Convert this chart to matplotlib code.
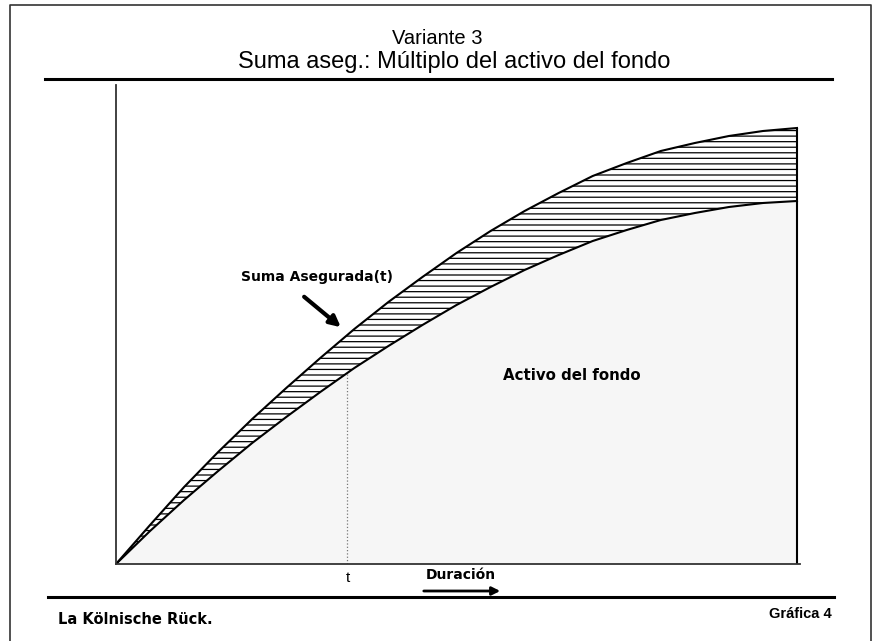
import matplotlib
matplotlib.use('Agg')
import matplotlib.pyplot as plt
import numpy as np

plt.rcParams['font.family'] = ['Liberation Sans', 'DejaVu Sans']
plt.rcParams['hatch.linewidth'] = 0.9

# duration (arbitrary units) and the two curves (arbitrary units)
duracion = [0, 0.5, 1, 1.5, 2, 2.5, 3, 3.5, 4, 4.5, 5, 5.5, 6, 6.5, 7, 7.5, 8, 8.5, 9, 9.5, 10]
activo = [0, 33, 64, 93, 121, 147, 172, 196, 218, 239, 259, 277,
          294, 309, 323, 334, 344, 351, 357, 361, 363]
suma_aseg = [0, 39, 77, 112, 145, 176, 206, 235, 262, 287, 311, 333,
             353, 371, 388, 401, 413, 421, 428, 433, 436]
t_mark = 3.39

W, H = 875, 641
fig = plt.figure(figsize=(W / 100, H / 100), dpi=100)

# the chart itself
ax = fig.add_axes([116 / W, (H - 564) / H, (800 - 116) / W, (564 - 85) / H])
ax.patch.set_alpha(0)
ax.set_xlim(0, 10 * 684 / 681)
ax.set_ylim(0, 479)

ax.fill_between(duracion, 0, activo, facecolor='#f6f6f6', linewidth=0)
ax.fill_between(duracion, activo, suma_aseg, facecolor='white', edgecolor='black',
                hatch='---', linewidth=0)
ax.plot(duracion, activo, color='black', lw=1.5)
ax.plot(duracion, suma_aseg, color='black', lw=1.5)
ax.vlines(duracion[-1], 0, suma_aseg[-1], color='black', lw=1.5)
ax.vlines(t_mark, 0, np.interp(t_mark, duracion, activo), color='#777777', lw=0.9, linestyles=':')

for side in ['top', 'right']:
    ax.spines[side].set_visible(False)
for side in ['left', 'bottom']:
    ax.spines[side].set_color('#333333')
    ax.spines[side].set_linewidth(1.3)
ax.set_xticks([])
ax.set_yticks([])

# frame layer in pixel coordinates, on top of the chart
frame = fig.add_axes([0, 0, 1, 1])
frame.set_zorder(5)
frame.set_xlim(0, W)
frame.set_ylim(H, 0)
frame.set_axis_off()

frame.plot([10, 10, 871, 871], [H, 5, 5, H], color='#333333', lw=1.2)
frame.plot([45, 832], [79, 79], color='black', lw=2.2)
frame.plot([48, 834], [597, 597], color='black', lw=2.2)

bold = dict(family=['DejaVu Sans'], fontweight='bold')
frame.text(437, 39, 'Variante 3', ha='center', va='center', fontsize=14.5)
frame.text(454, 62, 'Suma aseg.: Múltiplo del activo del fondo', ha='center', va='center', fontsize=17)
frame.text(58, 620, 'La Kölnische Rück.', ha='left', va='center', fontsize=10.5, **bold)
frame.text(832, 614, 'Gráfica 4', ha='right', va='center', fontsize=10.5, fontweight='bold')
frame.text(348, 578, 't', ha='center', va='center', fontsize=11)
frame.text(461, 575, 'Duración', ha='center', va='center', fontsize=10, **bold)
frame.annotate('', xy=(503, 591), xytext=(421, 591),
               arrowprops=dict(arrowstyle='-|>', lw=2, color='black', mutation_scale=12))
frame.text(317, 277, 'Suma Asegurada(t)', ha='center', va='center', fontsize=10, **bold)
frame.text(572, 376, 'Activo del fondo', ha='center', va='center', fontsize=10.8, **bold)
frame.annotate('', xy=(343, 329), xytext=(302, 295),
               arrowprops=dict(arrowstyle='-|>', lw=3, color='black', mutation_scale=16))

fig.savefig('out.png', dpi=100)
